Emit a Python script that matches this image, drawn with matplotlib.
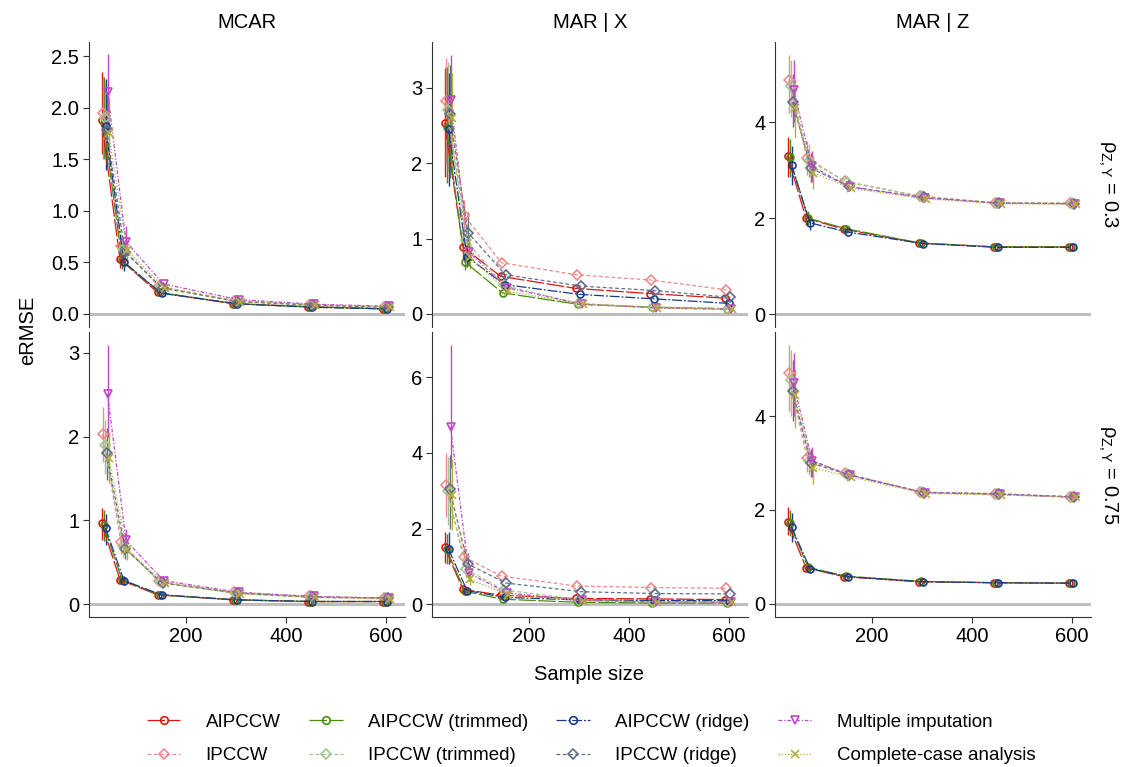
import matplotlib
matplotlib.use("Agg")
import matplotlib.pyplot as plt
from matplotlib.lines import Line2D

plt.rcParams['font.family'] = ['Liberation Sans', 'DejaVu Sans']
plt.rcParams['font.size'] = 14.5
plt.rcParams['mathtext.fontset'] = 'custom'
plt.rcParams['mathtext.rm'] = 'Liberation Sans'
plt.rcParams['mathtext.it'] = 'Liberation Sans'

# sample sizes
sample_size = [38, 75, 150, 300, 450, 600]

methods = ['AIPCCW', 'IPCCW', 'AIPCCW (trimmed)', 'IPCCW (trimmed)',
           'AIPCCW (ridge)', 'IPCCW (ridge)', 'Multiple imputation',
           'Complete-case analysis']
colors = ['#E0140F', '#EE8A8A', '#4C8C0C', '#9FC78A',
          '#1B3A8C', '#5F6E8C', '#C048C8', '#B5AE3A']
markers = ['o', 'D', 'o', 'D', 'o', 'D', 'v', 'x']
dashes = [(14, 2), (3, 2), (14, 2), (3, 2), (8, 1.5, 1.5, 1.5), (3, 2),
          (3, 1.5, 1, 1.5), (1, 1.5)]

col_titles = ['MCAR', 'MAR | X', 'MAR | Z']
row_titles = [r'$\rho_{\mathrm{Z,Y}}$ = 0.3', r'$\rho_{\mathrm{Z,Y}}$ = 0.75']

# eRMSE per method (rows follow `methods`)
mcar_03 = [
    [1.88, 0.53, 0.21, 0.10, 0.07, 0.05],
    [1.95, 0.66, 0.27, 0.13, 0.09, 0.07],
    [1.85, 0.52, 0.21, 0.10, 0.07, 0.05],
    [1.90, 0.63, 0.26, 0.13, 0.09, 0.07],
    [1.82, 0.50, 0.20, 0.10, 0.065, 0.05],
    [1.78, 0.60, 0.25, 0.12, 0.085, 0.065],
    [2.15, 0.70, 0.29, 0.14, 0.095, 0.075],
    [1.75, 0.62, 0.25, 0.12, 0.085, 0.07],
]
marx_03 = [
    [2.54, 0.89, 0.50, 0.34, 0.27, 0.21],
    [2.83, 1.31, 0.68, 0.52, 0.45, 0.32],
    [2.48, 0.69, 0.28, 0.13, 0.09, 0.07],
    [2.71, 0.98, 0.38, 0.14, 0.09, 0.07],
    [2.45, 0.76, 0.39, 0.26, 0.20, 0.14],
    [2.66, 1.08, 0.52, 0.37, 0.31, 0.22],
    [2.84, 0.82, 0.35, 0.13, 0.08, 0.06],
    [2.60, 0.75, 0.30, 0.13, 0.08, 0.06],
]
marz_03 = [
    [3.29, 2.00, 1.77, 1.48, 1.40, 1.40],
    [4.87, 3.25, 2.77, 2.46, 2.32, 2.31],
    [3.27, 2.00, 1.78, 1.48, 1.40, 1.40],
    [4.75, 3.20, 2.75, 2.45, 2.32, 2.31],
    [3.10, 1.90, 1.71, 1.47, 1.39, 1.39],
    [4.42, 3.04, 2.66, 2.43, 2.31, 2.30],
    [4.67, 3.08, 2.65, 2.42, 2.31, 2.30],
    [4.30, 2.95, 2.62, 2.40, 2.30, 2.29],
]
mcar_075 = [
    [0.97, 0.29, 0.11, 0.05, 0.03, 0.03],
    [2.03, 0.74, 0.27, 0.14, 0.09, 0.07],
    [0.95, 0.29, 0.11, 0.05, 0.03, 0.03],
    [1.90, 0.69, 0.26, 0.13, 0.09, 0.07],
    [0.91, 0.28, 0.11, 0.05, 0.03, 0.03],
    [1.80, 0.66, 0.25, 0.13, 0.08, 0.07],
    [2.51, 0.76, 0.28, 0.14, 0.09, 0.07],
    [1.75, 0.65, 0.25, 0.12, 0.08, 0.06],
]
marx_075 = [
    [1.51, 0.39, 0.24, 0.15, 0.14, 0.12],
    [3.15, 1.25, 0.74, 0.48, 0.44, 0.42],
    [1.45, 0.34, 0.13, 0.05, 0.03, 0.03],
    [3.00, 0.92, 0.38, 0.12, 0.07, 0.06],
    [1.46, 0.36, 0.18, 0.11, 0.10, 0.09],
    [3.04, 1.06, 0.56, 0.33, 0.28, 0.27],
    [4.68, 0.82, 0.30, 0.10, 0.06, 0.05],
    [2.90, 0.66, 0.25, 0.09, 0.06, 0.05],
]
marz_075 = [
    [1.74, 0.77, 0.58, 0.47, 0.45, 0.44],
    [4.91, 3.10, 2.78, 2.38, 2.35, 2.28],
    [1.72, 0.78, 0.59, 0.48, 0.45, 0.44],
    [4.77, 3.05, 2.77, 2.38, 2.34, 2.28],
    [1.64, 0.75, 0.58, 0.47, 0.45, 0.44],
    [4.53, 3.00, 2.75, 2.37, 2.34, 2.28],
    [4.70, 3.05, 2.74, 2.37, 2.33, 2.27],
    [4.45, 2.90, 2.70, 2.35, 2.32, 2.27],
]

# interval bounds at the two smallest sample sizes: [lo38, hi38, lo75, hi75]
mcar_03_ci = [
    [1.55, 2.35, 0.45, 0.62], [1.50, 2.30, 0.55, 0.78],
    [1.50, 2.30, 0.44, 0.60], [1.50, 2.25, 0.53, 0.74],
    [1.40, 2.28, 0.42, 0.58], [1.45, 2.15, 0.50, 0.72],
    [1.75, 2.52, 0.58, 0.85], [1.45, 2.10, 0.52, 0.74],
]
marx_03_ci = [
    [1.82, 3.27, 0.72, 1.05], [2.00, 3.40, 1.10, 1.51],
    [1.74, 3.28, 0.58, 0.82], [1.90, 3.35, 0.75, 1.20],
    [1.70, 3.20, 0.62, 0.92], [1.80, 3.30, 0.85, 1.35],
    [2.00, 3.44, 0.65, 1.00], [1.80, 3.20, 0.60, 0.95],
]
marz_03_ci = [
    [2.85, 3.70, 1.85, 2.15], [4.20, 5.40, 2.90, 3.60],
    [2.85, 3.65, 1.85, 2.15], [4.10, 5.30, 2.85, 3.55],
    [2.69, 3.50, 1.75, 2.05], [3.90, 5.00, 2.75, 3.35],
    [4.00, 5.30, 2.75, 3.40], [3.70, 4.90, 2.60, 3.30],
]
mcar_075_ci = [
    [0.76, 1.15, 0.24, 0.34], [1.70, 2.35, 0.60, 0.90],
    [0.75, 1.12, 0.24, 0.34], [1.55, 2.20, 0.56, 0.84],
    [0.70, 1.08, 0.23, 0.33], [1.48, 2.10, 0.54, 0.80],
    [2.00, 3.09, 0.62, 0.90], [1.45, 2.05, 0.53, 0.78],
]
marx_075_ci = [
    [1.10, 1.90, 0.30, 0.50], [2.30, 4.00, 1.00, 1.55],
    [1.05, 1.85, 0.27, 0.44], [2.10, 3.90, 0.70, 1.20],
    [1.05, 1.90, 0.28, 0.46], [2.00, 3.95, 0.80, 1.35],
    [3.60, 6.85, 0.60, 1.10], [1.95, 3.85, 0.50, 0.90],
]
marz_075_ci = [
    [1.47, 2.06, 0.70, 0.85], [4.10, 5.51, 2.80, 3.40],
    [1.45, 2.00, 0.70, 0.86], [4.00, 5.40, 2.75, 3.35],
    [1.32, 1.94, 0.68, 0.83], [3.90, 5.20, 2.70, 3.30],
    [4.00, 5.35, 2.70, 3.35], [3.74, 5.00, 2.55, 3.20],
]

panels = [[mcar_03, marx_03, marz_03], [mcar_075, marx_075, marz_075]]
panels_ci = [[mcar_03_ci, marx_03_ci, marz_03_ci],
             [mcar_075_ci, marx_075_ci, marz_075_ci]]
y_limits = [[(-0.126, 2.636), (-0.173, 3.61), (-0.27, 5.67)],
            [(-0.155, 3.25), (-0.34, 7.2), (-0.28, 5.79)]]
y_ticks = [[[0, 0.5, 1, 1.5, 2, 2.5], [0, 1, 2, 3], [0, 2, 4]],
           [[0, 1, 2, 3], [0, 2, 4, 6], [0, 2, 4]]]
y_fmt = [['{:.1f}', '{:g}', '{:g}'], ['{:g}', '{:g}', '{:g}']]

W, H = 1123, 767
fig = plt.figure(figsize=(W / 100, H / 100), dpi=100)

lefts = [89, 432, 775]
tops = [42, 332]
pw, ph = 316, 285
dodge = [-7, -5, -3, -1, 1, 3, 5, 7]

for r in range(2):
    for c in range(3):
        ax = fig.add_axes([lefts[c] / W, 1 - (tops[r] + ph) / H, pw / W, ph / H])
        ax.axhline(0, color='#BEBEBE', lw=2.2, zorder=0)
        data = panels[r][c]
        ci = panels_ci[r][c]
        for i, m in enumerate(methods):
            xs = [n + dodge[i] for n in sample_size]
            ax.vlines([xs[0], xs[1]], [ci[i][0], ci[i][2]], [ci[i][1], ci[i][3]],
                      color=colors[i], lw=1.0, zorder=2)
            ax.plot(xs, data[i], color=colors[i], lw=0.9, dashes=dashes[i],
                    marker=markers[i], markersize=5.5 if markers[i] != 'o' else 5,
                    markerfacecolor='none', markeredgewidth=1.2, zorder=3)
        ax.set_xlim(6, 638)
        ax.set_ylim(*y_limits[r][c])
        ax.set_yticks(y_ticks[r][c])
        ax.set_yticklabels([y_fmt[r][c].format(v) for v in y_ticks[r][c]])
        ax.set_xticks([200, 400, 600])
        for s in ['top', 'right']:
            ax.spines[s].set_visible(False)
        ax.spines['left'].set_color('#333333')
        ax.spines['left'].set_linewidth(0.8)
        ax.tick_params(length=4, width=0.8, color='#333333', labelsize=14.5,
                       labelcolor='black', pad=3)
        if r == 0:
            ax.spines['bottom'].set_visible(False)
            ax.tick_params(axis='x', bottom=False, labelbottom=False)
            ax.set_title(col_titles[c], fontsize=14.5, pad=10)
        else:
            ax.spines['bottom'].set_color('#333333')
            ax.spines['bottom'].set_linewidth(0.8)
        if c == 2:
            ax.text(1.015, 0.5, row_titles[r], transform=ax.transAxes,
                    rotation=270, ha='left', va='center', fontsize=14.5)

fig.text(28 / W, 1 - 330 / H, 'eRMSE', rotation=90, ha='center', va='center', fontsize=14.5)
fig.text(589 / W, 1 - 675 / H, 'Sample size', ha='center', va='center', fontsize=14.5)

handles = [Line2D([], [], color=colors[i], lw=0.9, dashes=dashes[i],
                  marker=markers[i], markersize=5.5, markerfacecolor='none',
                  markeredgewidth=1.2) for i in range(len(methods))]
fig.legend(handles, methods, ncol=4, loc='center', bbox_to_anchor=(591 / W, 1 - 739 / H),
           frameon=False, fontsize=13.5, handlelength=1.8, columnspacing=1.5,
           handletextpad=1.35, labelspacing=0.85)

fig.savefig('out.png', dpi=100)
